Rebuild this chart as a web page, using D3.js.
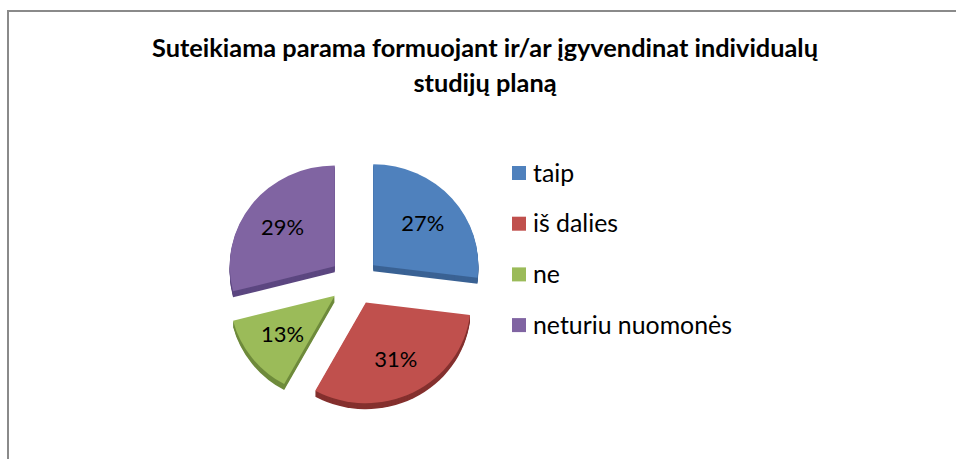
<!DOCTYPE html>
<html><head><meta charset="utf-8">
<script src="https://cdn.jsdelivr.net/npm/d3@7"></script>
<style>body{margin:0;background:#fff;overflow:hidden}</style>
</head><body><svg id="c" width="956" height="459"></svg>
<script>
const categories = ["taip", "iš dalies", "ne", "neturiu nuomonės"];
const values = [27, 31, 13, 29];
const labels = ["27%", "31%", "13%", "29%"];
const colors = ["#4F81BD", "#C0504D", "#9BBB59", "#8064A2"];
const sideColors = ["#3A6294", "#84302E", "#6F8B3C", "#5C4780"];
const titleLines = ["Suteikiama parama formuojant ir/ar įgyvendinat individualų", "studijų planą"];

const svg = d3.select("#c");
const FONT = "Lato, 'Open Sans', sans-serif";

// frame
svg.append("rect").attr("x", 8).attr("y", 11).attr("width", 1000).attr("height", 500)
  .attr("fill", "#fff").attr("stroke", "#8a8a8a").attr("stroke-width", 2);

// helper: fit font-size to target width
function fit(sel, target) {
  const w = sel.node().getComputedTextLength();
  const fs = parseFloat(sel.attr("font-size"));
  sel.attr("font-size", (fs * target / w).toFixed(2));
}

// title
const t1 = svg.append("text").attr("x", 485).attr("y", 57).attr("text-anchor", "middle")
  .attr("font-family", FONT).attr("font-weight", "bold").attr("font-size", 22).attr("fill", "#000")
  .text(titleLines[0]);
fit(t1, 666);
const t2 = svg.append("text").attr("x", 485).attr("y", 92).attr("text-anchor", "middle")
  .attr("font-family", FONT).attr("font-weight", "bold").attr("font-size", t1.attr("font-size")).attr("fill", "#000")
  .text(titleLines[1]);

// pie
const cx = 354.5, cy = 281, R = 105, sy = 0.96, explode = 25, depth = 6, labelR = 66;
const pie = d3.pie().sort(null).value(d => d);
const arcs = pie(values);
const arc = d3.arc().innerRadius(0).outerRadius(R);

const g = svg.append("g").attr("transform", `translate(${cx},${cy}) scale(1,${sy})`);
const mid = d => (d.startAngle + d.endAngle) / 2;

// sides (extrusion)
arcs.forEach((d, i) => {
  const m = mid(d);
  const ox = Math.sin(m) * explode, oy = -Math.cos(m) * explode;
  for (let k = depth; k >= 1; k--) {
    g.append("path").attr("d", arc(d))
      .attr("transform", `translate(${ox},${oy + k / sy})`)
      .attr("fill", sideColors[i]);
  }
});
// tops
arcs.forEach((d, i) => {
  const m = mid(d);
  const ox = Math.sin(m) * explode, oy = -Math.cos(m) * explode;
  g.append("path").attr("d", arc(d))
    .attr("transform", `translate(${ox},${oy})`)
    .attr("fill", colors[i]);
});

// labels
const lblSel = [];
arcs.forEach((d, i) => {
  const m = mid(d);
  const r = explode + labelR;
  const x = cx + Math.sin(m) * r;
  const y = cy - Math.cos(m) * r * sy;
  const t = svg.append("text").attr("x", x).attr("y", y).attr("dy", "0.35em")
    .attr("text-anchor", "middle").attr("font-family", FONT).attr("font-size", 24)
    .attr("fill", "#000").text(labels[i]);
  lblSel.push(t);
});
fit(lblSel[0], 43);
lblSel.forEach(t => t.attr("font-size", lblSel[0].attr("font-size")));

// legend
const lg = svg.append("g");
const legTexts = [];
categories.forEach((c, i) => {
  const y = 173 + i * 50.7;
  lg.append("rect").attr("x", 512).attr("y", y - 7).attr("width", 14).attr("height", 14).attr("fill", colors[i]);
  const t = lg.append("text").attr("x", 533).attr("y", y).attr("dy", "0.35em")
    .attr("font-family", FONT).attr("font-size", 22).attr("fill", "#000").text(c);
  legTexts.push(t);
});
fit(legTexts[3], 199);
legTexts.forEach(t => t.attr("font-size", legTexts[3].attr("font-size")));
</script></body></html>
